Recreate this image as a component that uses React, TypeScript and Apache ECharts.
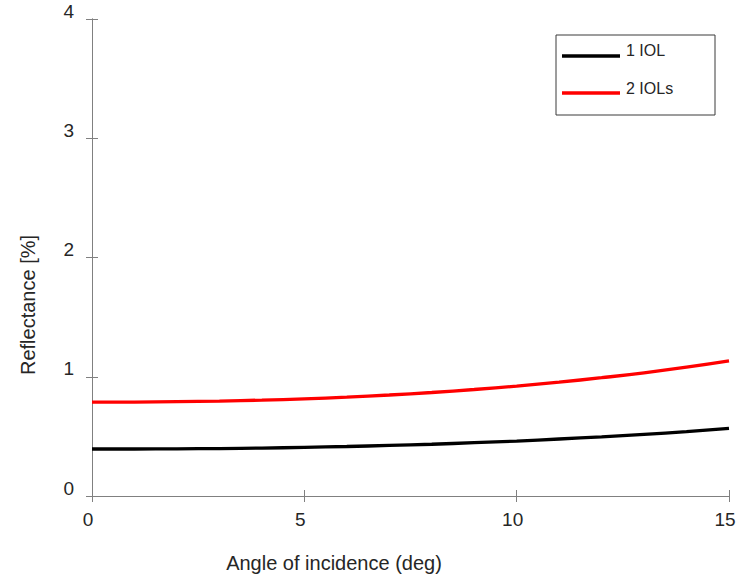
import React, { useEffect, useRef } from "react";
import * as echarts from "echarts";

const angles = [0, 1, 2, 3, 4, 5, 6, 7, 8, 9, 10, 11, 12, 13, 14, 15];
const oneIOL = [0.394, 0.394, 0.396, 0.398, 0.402, 0.408, 0.415, 0.424, 0.434, 0.447, 0.461, 0.478, 0.496, 0.517, 0.54, 0.567];
const twoIOLs = [0.787, 0.788, 0.791, 0.796, 0.804, 0.815, 0.829, 0.847, 0.868, 0.893, 0.922, 0.955, 0.992, 1.033, 1.08, 1.133];
const seriesNames = ["1 IOL", "2 IOLs"];
const seriesColors = ["#000000", "#ff0000"];
const xTitle = "Angle of incidence (deg)";
const yTitle = "Reflectance [%]";

const FONT = "'Liberation Sans', Arial, sans-serif";
const TXT = "#262626";
const AX = "#808080";

export default function App() {
  const ref = useRef<HTMLDivElement>(null);
  useEffect(() => {
    if (!ref.current) return;
    const chart = echarts.init(ref.current, undefined, { renderer: "svg" });
    const axisLine = { show: true, lineStyle: { color: AX, width: 1 } };
    const tick = { show: true, inside: true, length: 6, lineStyle: { color: AX } };
    chart.setOption({
      animation: false,
      backgroundColor: "#ffffff",
      textStyle: { fontFamily: FONT },
      grid: { left: 92, right: 16, top: 19, bottom: 80, show: false },
      xAxis: [
        {
          type: "value", min: 0, max: 15, interval: 5, position: "bottom",
          axisLine, axisTick: tick, splitLine: { show: false },
          axisLabel: { color: TXT, fontSize: 19, fontFamily: FONT, margin: 14, padding: [0, 8, 0, 0] },
        },
        {
          type: "value", min: 0, max: 15, interval: 5, position: "top",
          axisLine, axisTick: tick, splitLine: { show: false }, axisLabel: { show: false },
        },
      ],
      yAxis: [
        {
          type: "value", min: 0, max: 4, interval: 1, position: "left",
          axisLine, axisTick: tick, splitLine: { show: false },
          axisLabel: { color: TXT, fontSize: 19, fontFamily: FONT, margin: 18, verticalAlign: "bottom", lineHeight: 16 },
        },
        {
          type: "value", min: 0, max: 4, interval: 1, position: "right",
          axisLine, axisTick: tick, splitLine: { show: false }, axisLabel: { show: false },
        },
      ],
      series: [
        {
          name: seriesNames[0], type: "line", smooth: true, showSymbol: false,
          data: angles.map((a, i) => [a, oneIOL[i]]),
          lineStyle: { color: seriesColors[0], width: 3.3 }, itemStyle: { color: seriesColors[0] },
        },
        {
          name: seriesNames[1], type: "line", smooth: true, showSymbol: false,
          data: angles.map((a, i) => [a, twoIOLs[i]]),
          lineStyle: { color: seriesColors[1], width: 3.3 }, itemStyle: { color: seriesColors[1] },
        },
      ],
      graphic: [
        {
          type: "text", x: 334, y: 563,
          style: { text: xTitle, fill: TXT, font: `20px ${FONT}`, align: "center", verticalAlign: "middle" },
        },
        {
          type: "text", x: 28, y: 305, rotation: Math.PI / 2,
          style: { text: yTitle, fill: TXT, font: `20px ${FONT}`, align: "center", verticalAlign: "middle" },
        },
        {
          type: "rect", shape: { x: 556, y: 35, width: 159, height: 80 },
          style: { fill: "#ffffff", stroke: "#3a3a3a", lineWidth: 1 },
        },
        {
          type: "line", shape: { x1: 562, y1: 56, x2: 620, y2: 56 },
          style: { stroke: seriesColors[0], lineWidth: 3.3 },
        },
        {
          type: "text", x: 626, y: 50,
          style: { text: seriesNames[0], fill: TXT, font: `16px ${FONT}`, align: "left", verticalAlign: "middle" },
        },
        {
          type: "line", shape: { x1: 562, y1: 93, x2: 620, y2: 93 },
          style: { stroke: seriesColors[1], lineWidth: 3.3 },
        },
        {
          type: "text", x: 626, y: 88,
          style: { text: seriesNames[1], fill: TXT, font: `16px ${FONT}`, align: "left", verticalAlign: "middle" },
        },
      ],
    });
    return () => chart.dispose();
  }, []);
  return <div ref={ref} style={{ position: "fixed", left: 0, top: 0, width: 745, height: 576 }} />;
}
